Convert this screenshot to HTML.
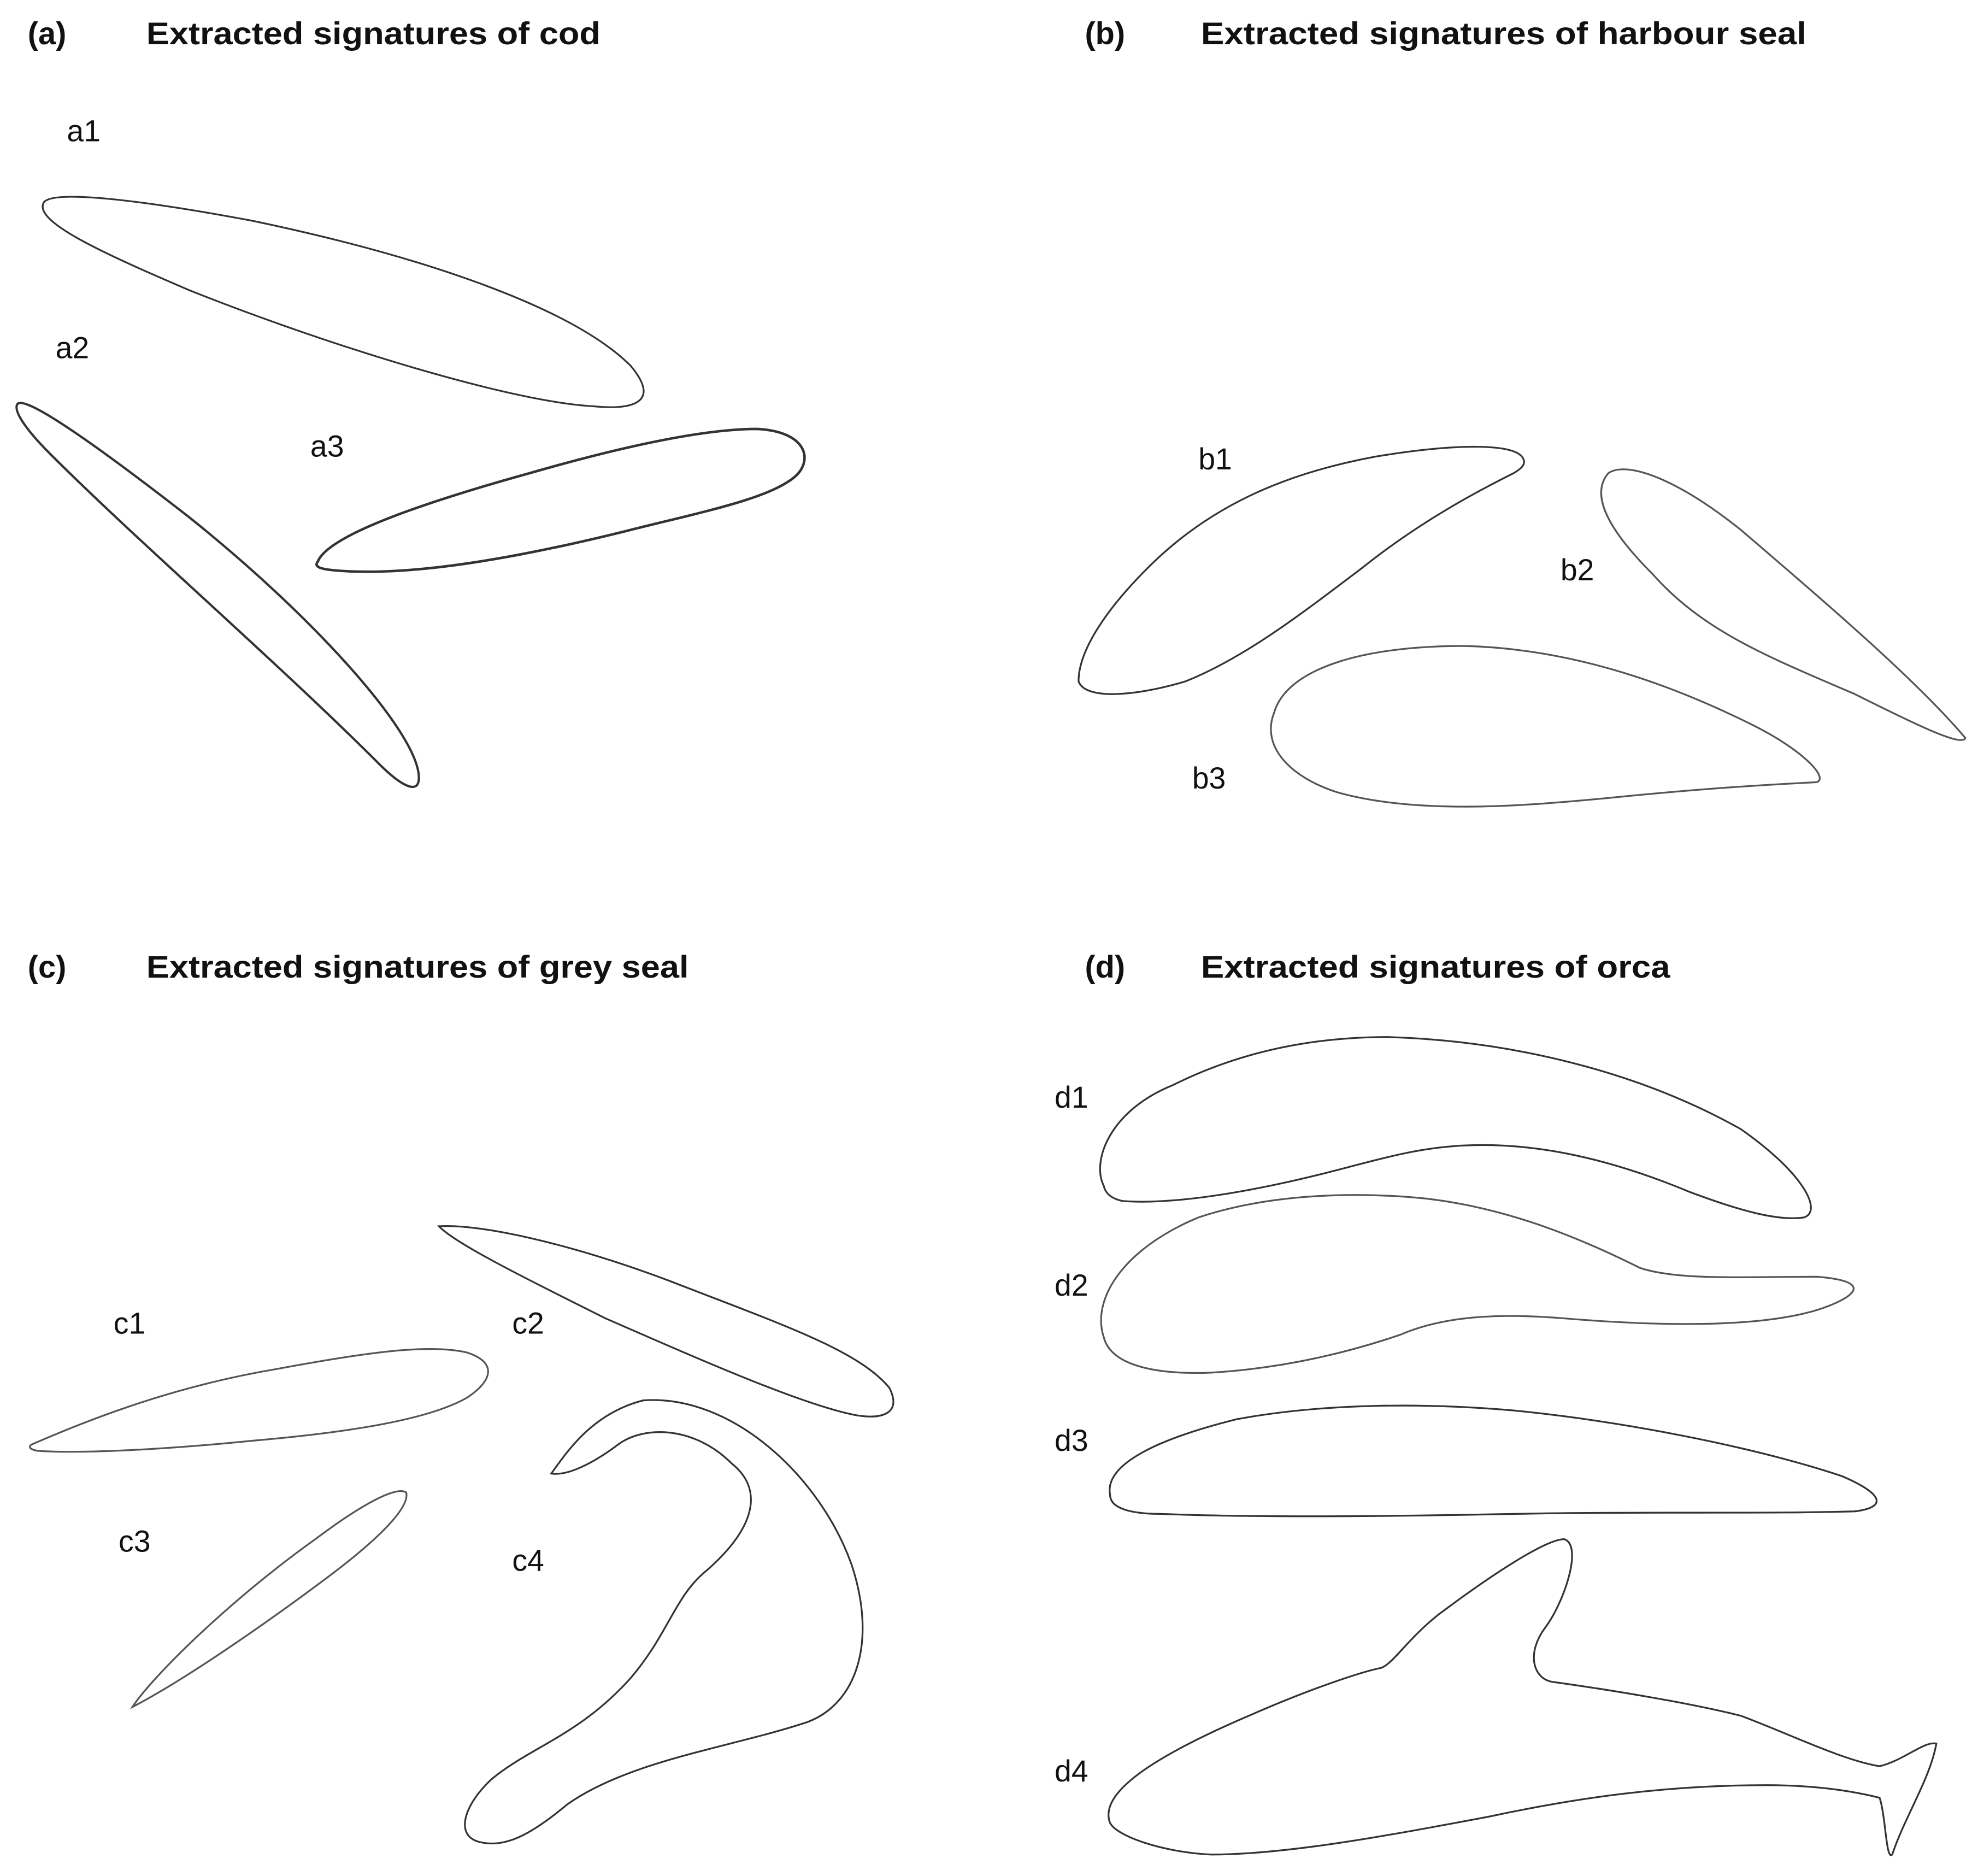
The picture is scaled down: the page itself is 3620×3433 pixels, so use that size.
<!DOCTYPE html>
<html><head><meta charset="utf-8"><style>
html,body{margin:0;padding:0;background:#fff;}
svg{display:block;}
text{font-family:"Liberation Sans",sans-serif;fill:#111;}
.t{font-weight:bold;font-size:25px;}
.l{font-size:24px;}
path{fill:none;stroke:#333;stroke-width:1.4;}
</style></head><body>
<svg width="3620" height="3433" viewBox="0 0 1568 1487" xmlns="http://www.w3.org/2000/svg">
<rect width="1568" height="1487" fill="#fff"/>
<text class="t" x="22" y="35">(a)</text>
<text class="t" x="116" y="35" textLength="360" lengthAdjust="spacingAndGlyphs">Extracted signatures of cod</text>
<text class="t" x="860" y="35">(b)</text>
<text class="t" x="952" y="35" textLength="480" lengthAdjust="spacingAndGlyphs">Extracted signatures of harbour seal</text>
<text class="t" x="22" y="775">(c)</text>
<text class="t" x="116" y="775" textLength="430" lengthAdjust="spacingAndGlyphs">Extracted signatures of grey seal</text>
<text class="t" x="860" y="775">(d)</text>
<text class="t" x="952" y="775" textLength="372" lengthAdjust="spacingAndGlyphs">Extracted signatures of orca</text>

<text class="l" x="53" y="112">a1</text>
<text class="l" x="44" y="284">a2</text>
<text class="l" x="246" y="362">a3</text>
<text class="l" x="950" y="372">b1</text>
<text class="l" x="1237" y="460">b2</text>
<text class="l" x="945" y="625">b3</text>
<text class="l" x="90" y="1057">c1</text>
<text class="l" x="406" y="1057">c2</text>
<text class="l" x="94" y="1230">c3</text>
<text class="l" x="406" y="1245">c4</text>
<text class="l" x="836" y="878">d1</text>
<text class="l" x="836" y="1027">d2</text>
<text class="l" x="836" y="1150">d3</text>
<text class="l" x="836" y="1412">d4</text>

<path d="M35,160 C45,150 120,160 200,175 C320,200 450,240 500,290 C525,320 500,325 470,322 C400,318 250,270 150,230 C80,200 25,175 35,160 Z"/>
<path style="stroke-width:1.8" d="M14,320 C20,315 60,340 150,410 C250,490 330,580 332,615 C333,630 320,625 300,605 C220,525 110,430 40,360 C20,340 10,325 14,320 Z"/>
<path style="stroke-width:2" d="M252,445 C260,425 330,400 420,375 C500,352 560,340 600,340 C640,342 645,365 630,378 C610,395 560,405 500,420 C420,440 340,455 280,453 C255,452 248,450 252,445 Z"/>
<path d="M1208,365 C1205,350 1150,352 1090,362 C1020,375 960,400 910,450 C870,490 855,520 855,540 C860,555 900,552 940,540 C990,520 1040,480 1080,450 C1130,410 1180,385 1200,375 C1205,372 1209,369 1208,365 Z"/>
<path style="stroke:#555" d="M1275,375 C1290,365 1330,380 1380,420 C1450,480 1520,540 1558,585 C1555,592 1520,575 1470,550 C1400,520 1350,500 1310,455 C1270,415 1262,390 1275,375 Z"/>
<path style="stroke:#555" d="M1010,565 C1020,530 1080,512 1160,512 C1250,514 1330,545 1390,575 C1430,595 1450,617 1440,620 C1400,622 1350,625 1280,632 C1200,640 1120,645 1060,628 C1020,615 1000,590 1010,565 Z"/>
<path style="stroke:#555" d="M25,1145 C60,1130 130,1100 220,1085 C290,1072 340,1065 370,1072 C395,1080 390,1095 370,1108 C340,1125 280,1135 200,1142 C120,1150 60,1152 30,1150 C24,1149 22,1147 25,1145 Z"/>
<path d="M348,972 C380,970 450,985 530,1015 C620,1050 680,1070 705,1100 C715,1120 700,1125 680,1122 C640,1115 560,1080 480,1045 C410,1010 360,985 348,972 Z"/>
<path style="stroke:#555" d="M105,1353 C120,1330 180,1270 250,1220 C290,1190 315,1178 322,1183 C325,1195 300,1220 260,1250 C200,1295 140,1335 105,1353 Z"/>
<path d="M437,1168 C450,1150 470,1120 510,1110 C580,1105 650,1170 675,1240 C695,1300 680,1350 640,1365 C580,1385 500,1395 450,1430 C420,1455 400,1465 380,1460 C360,1455 368,1430 390,1410 C420,1385 460,1375 500,1330 C530,1295 535,1265 560,1245 C600,1210 605,1180 580,1160 C550,1130 510,1130 490,1145 C470,1160 450,1170 437,1168 Z"/>
<path d="M875,940 C865,920 880,880 930,860 C990,830 1050,822 1100,822 C1200,825 1300,850 1380,895 C1430,930 1445,960 1430,965 C1410,968 1380,960 1340,945 C1280,920 1220,905 1160,908 C1120,910 1090,920 1050,930 C990,945 930,955 890,952 C880,950 876,945 875,940 Z"/>
<path style="stroke:#555" d="M875,1060 C865,1030 890,990 950,965 C1010,945 1080,945 1130,950 C1200,958 1260,985 1300,1005 C1330,1015 1380,1012 1440,1012 C1480,1015 1475,1025 1450,1035 C1400,1055 1300,1050 1240,1045 C1180,1040 1140,1045 1110,1058 C1060,1075 1010,1085 960,1088 C910,1090 880,1080 875,1060 Z"/>
<path d="M880,1185 C875,1160 920,1140 980,1125 C1050,1112 1130,1112 1200,1118 C1300,1128 1400,1150 1460,1170 C1495,1185 1495,1195 1470,1198 C1400,1200 1300,1198 1200,1200 C1100,1202 1000,1203 920,1200 C895,1200 880,1195 880,1185 Z"/>
<path d="M880,1445 C870,1420 920,1390 990,1360 C1040,1338 1080,1325 1095,1322 C1105,1318 1115,1300 1140,1280 C1180,1250 1225,1220 1240,1220 C1255,1225 1240,1270 1225,1290 C1210,1310 1215,1330 1230,1333 C1280,1340 1340,1350 1380,1360 C1420,1375 1460,1395 1490,1400 C1510,1395 1525,1380 1535,1382 C1530,1410 1510,1440 1500,1470 C1495,1475 1495,1440 1490,1425 C1470,1420 1440,1415 1400,1415 C1320,1415 1250,1425 1180,1440 C1100,1455 1020,1470 960,1470 C920,1468 885,1455 880,1445 Z"/>
</svg>
</body></html>
